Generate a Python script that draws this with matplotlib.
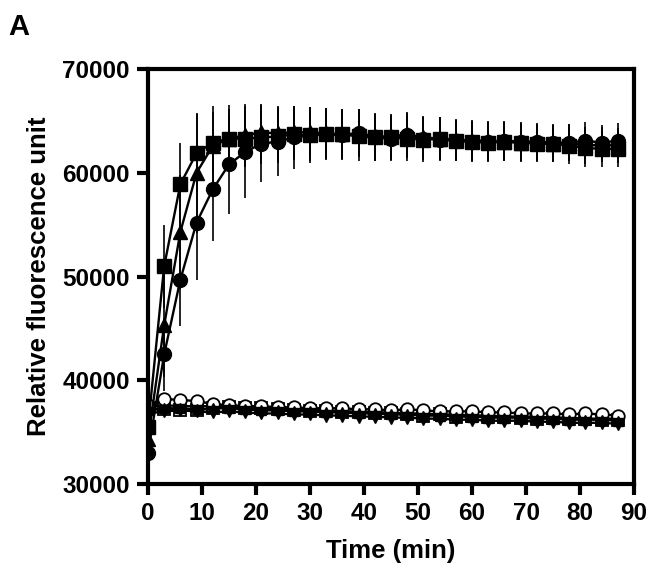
import numpy as np
import matplotlib
matplotlib.use("Agg")
import matplotlib.pyplot as plt

plt.rcParams["font.family"] = ["Liberation Sans", "DejaVu Sans"]
plt.rcParams["font.weight"] = "bold"

# time points (min), sampled every 3 min
time = list(range(0, 90, 3))

# high-signal series (filled markers)
sq_mean = [35500, 51000, 58900, 61900, 62900, 63300, 63300, 63400, 63500, 63700,
           63600, 63700, 63700, 63500, 63400, 63400, 63300, 63200, 63300, 63100,
           63000, 62900, 63000, 62900, 62800, 62800, 62600, 62400, 62300, 62300]
sq_err = [500, 4000, 4000, 3800, 3000, 2800, 2700, 2600, 2600, 2500,
          2500, 2400, 2400, 2400, 2300, 2200, 2200, 2200, 2100, 2000,
          1900, 1900, 1900, 1800, 1800, 1800, 1800, 1800, 1700, 1700]
tri_mean = [34300, 45300, 54300, 60000, 62600, 63300, 63600, 63900, 63800, 63900,
            63900, 63800, 63700, 63800, 63500, 63500, 63700, 63400, 63300, 63200,
            63100, 63100, 63000, 62900, 62900, 62800, 62900, 62600, 62700, 62600]
tri_err = [600, 5000, 5500, 5800, 3800, 3200, 3000, 2700, 2600, 2500,
           2400, 2400, 2400, 2300, 2300, 2200, 2200, 2100, 2100, 2000,
           2000, 1900, 1900, 1900, 1800, 1800, 1800, 1800, 1700, 1700]
cir_mean = [33000, 42500, 49700, 55200, 58400, 60800, 62000, 62800, 63000, 63400,
            63600, 63700, 63600, 63800, 63400, 63300, 63600, 63300, 63200, 63100,
            63000, 63000, 63100, 63000, 63000, 62900, 62900, 63100, 62900, 63100]
cir_err = [500, 3500, 4500, 5500, 5000, 4800, 4400, 3700, 3300, 3000,
           2700, 2500, 2400, 2300, 2300, 2200, 2200, 2100, 2100, 2000,
           2000, 1900, 1900, 1900, 1800, 1800, 1800, 1800, 1700, 1700]

# low-signal series (controls)
ocir_mean = [37600, 38200, 38100, 38000, 37700, 37600, 37500, 37500, 37400, 37400,
             37300, 37300, 37300, 37200, 37200, 37100, 37200, 37100, 37000, 37000,
             37000, 36900, 36900, 36800, 36800, 36800, 36700, 36800, 36700, 36600]
osq_mean = [37200, 37200, 37100, 37100, 37300, 37400, 37300, 37300, 37200, 37100,
            37000, 37000, 36900, 36900, 36800, 36800, 36700, 36600, 36700, 36500,
            36600, 36500, 36500, 36400, 36300, 36400, 36300, 36300, 36200, 36200]
otri_mean = [37400, 37600, 37500, 37500, 37500, 37500, 37400, 37300, 37300, 37200,
             37200, 37100, 37000, 37000, 36900, 36900, 36800, 36800, 36700, 36700,
             36600, 36600, 36500, 36500, 36500, 36400, 36400, 36300, 36300, 36300]
ftri_mean = [37100, 37300, 37300, 37200, 37300, 37300, 37200, 37100, 37100, 37000,
             37000, 36900, 36900, 36800, 36800, 36700, 36700, 36600, 36600, 36500,
             36500, 36400, 36400, 36400, 36300, 36300, 36200, 36200, 36200, 36100]
dtri_mean = [36800, 37000, 37100, 37000, 36900, 37000, 36900, 36800, 36800, 36700,
             36700, 36600, 36600, 36500, 36500, 36400, 36400, 36300, 36300, 36200,
             36200, 36100, 36100, 36100, 36000, 36000, 35900, 35900, 35900, 35800]
low_err = 350

fig = plt.figure(figsize=(6.53, 5.76), dpi=100)
ax = fig.add_axes([0.2266, 0.1597, 0.7444, 0.7205])

eb = dict(color="black", lw=1.7, elinewidth=1.2, capsize=0)
# controls first, then the rising curves on top
ax.errorbar(time, osq_mean, yerr=low_err, marker="s", ms=8, mfc="white", mec="black", mew=1.3, **eb)
ax.errorbar(time, otri_mean, yerr=low_err, marker="^", ms=8, mfc="white", mec="black", mew=1.3, **eb)
ax.errorbar(time, ocir_mean, yerr=low_err, marker="o", ms=9, mfc="white", mec="black", mew=1.3, **eb)
ax.errorbar(time, ftri_mean, yerr=low_err, marker="^", ms=7, mfc="black", mec="black", **eb)
ax.errorbar(time, dtri_mean, yerr=low_err, marker="v", ms=8, mfc="black", mec="black", **eb)

ax.errorbar(time, cir_mean, yerr=cir_err, marker="o", ms=10, mfc="black", mec="black", **eb)
ax.errorbar(time, tri_mean, yerr=tri_err, marker="^", ms=10, mfc="black", mec="black", **eb)
ax.errorbar(time, sq_mean, yerr=sq_err, marker="s", ms=9.5, mfc="black", mec="black", **eb)

ax.set_xlim(0, 90)
ax.set_ylim(30000, 70000)
ax.set_xticks(range(0, 91, 10))
ax.set_yticks(range(30000, 70001, 10000))
for s in ax.spines.values():
    s.set_linewidth(3)
ax.tick_params(width=3, length=8, labelsize=17.5, pad=5)
for lab in ax.get_xticklabels() + ax.get_yticklabels():
    lab.set_fontweight("bold")
ax.set_xlabel("Time (min)", fontsize=18.5, fontweight="bold", labelpad=10)
ax.set_ylabel("Relative fluorescence unit", fontsize=18.5, fontweight="bold", labelpad=8)

fig.text(0.012, 0.94, "A", fontsize=21, fontweight="bold")

fig.savefig("out.png", dpi=100)
